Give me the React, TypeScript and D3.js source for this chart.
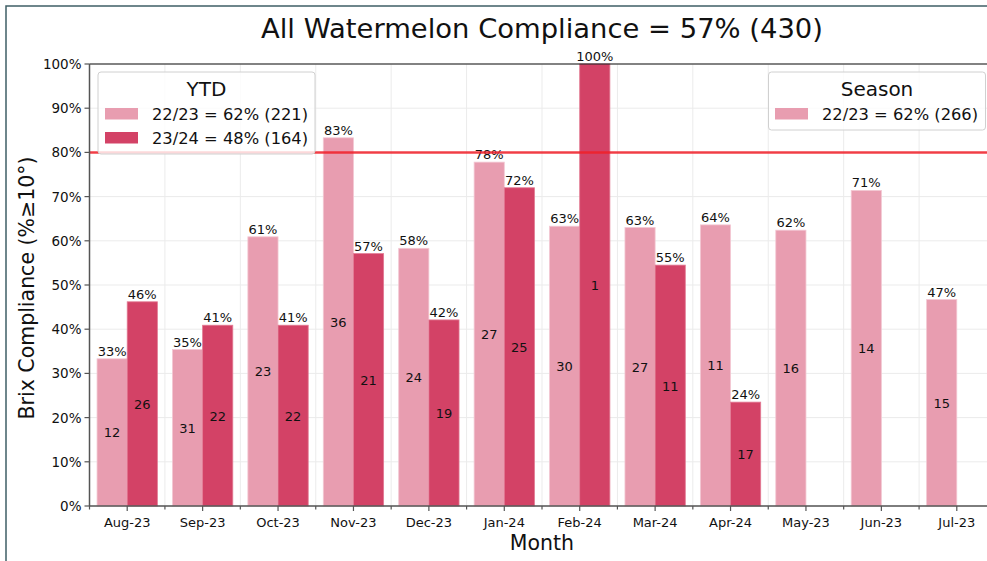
import React from "react";
import * as d3 from "d3";

const months = ["Aug-23","Sep-23","Oct-23","Nov-23","Dec-23","Jan-24","Feb-24","Mar-24","Apr-24","May-23","Jun-23","Jul-23"];
const pct2223 = [33.3, 35.4, 60.9, 83.3, 58.3, 77.8, 63.3, 63.0, 63.6, 62.4, 71.4, 46.7];
const cnt2223 = [12, 31, 23, 36, 24, 27, 30, 27, 11, 16, 14, 15];
const pct2324 = [46.2, 40.9, 40.9, 57.1, 42.1, 72.0, 100, 54.5, 23.5, null, null, null];
const cnt2324 = [26, 22, 22, 21, 19, 25, 1, 11, 17, null, null, null];
const yTicks = [0, 10, 20, 30, 40, 50, 60, 70, 80, 90, 100];
const target = 80;
const titleText = "All Watermelon Compliance = 57% (430)";
const ytdLegend = ["22/23 = 62% (221)", "23/24 = 48% (164)"];
const seasonLegend = ["22/23 = 62% (266)"];

const LIGHT = "#e89db0";
const DARK = "#d34266";
const FONT = "DejaVu Sans";

export default function App() {
  const W = 987, H = 561;
  const left = 89.5, right = 994.5, top = 64, bottom = 506;
  const x = d3.scaleBand<string>().domain(months).range([left, right]).padding(0);
  const y = d3.scaleLinear().domain([0, 100]).range([bottom, top]);
  const bw = x.bandwidth();
  const barW = bw * 0.4;
  const boundaries = d3.range(months.length + 1).map(i => left + i * bw);

  return (
    <svg width={W} height={H} style={{ position: "absolute", left: 0, top: 0, fontFamily: FONT }}>
      <rect x={0} y={0} width={W} height={H} fill="white" />
      {/* frame */}
      <rect x={6} y={6} width={W + 20} height={H + 20} fill="none" stroke="#3f5f66" strokeWidth={1.5} />
      {/* grid */}
      {yTicks.map(t => (
        <line key={"gy" + t} x1={left} x2={right} y1={y(t)} y2={y(t)} stroke="#ebebeb" strokeWidth={1} />
      ))}
      {boundaries.map((b, i) => (
        <line key={"gx" + i} x1={b} x2={b} y1={top} y2={bottom} stroke="#ebebeb" strokeWidth={1} />
      ))}
      {/* bars */}
      {months.map((m, i) => {
        const cx = (x(m) as number) + bw / 2;
        const v1 = pct2223[i];
        const v2 = pct2324[i];
        return (
          <g key={m}>
            <rect x={cx - barW} y={y(v1)} width={barW} height={bottom - y(v1)} fill={LIGHT} stroke="#f3c8d3" strokeWidth={0.8} />
            {v2 !== null && (
              <rect x={cx} y={y(v2)} width={barW} height={bottom - y(v2)} fill={DARK} stroke="#e27a93" strokeWidth={0.8} />
            )}
          </g>
        );
      })}
      {/* labels */}
      {months.map((m, i) => {
        const cx = (x(m) as number) + bw / 2;
        const v1 = pct2223[i];
        const v2 = pct2324[i];
        const c2 = cnt2324[i];
        return (
          <g key={"l" + m} fontSize={13} fill="#111" textAnchor="middle">
            <text x={cx - barW / 2} y={y(v1) - 3}>{Math.round(v1) + "%"}</text>
            <text x={cx - barW / 2} y={y(v1 / 2) + 5}>{cnt2223[i]}</text>
            {v2 !== null && <text x={cx + barW / 2} y={y(v2) - 3}>{Math.round(v2) + "%"}</text>}
            {v2 !== null && <text x={cx + barW / 2} y={y(v2 / 2) + 5}>{c2}</text>}
          </g>
        );
      })}
      {/* target line */}
      <line x1={left} x2={right} y1={y(target)} y2={y(target)} stroke="#f01e28" strokeOpacity={0.85} strokeWidth={2.5} />
      {/* spines */}
      <line x1={left} x2={right} y1={top} y2={top} stroke="#111" strokeWidth={1.2} />
      <line x1={left} x2={left} y1={top} y2={bottom} stroke="#555" strokeWidth={1.5} />
      <line x1={left} x2={right} y1={bottom} y2={bottom} stroke="#555" strokeWidth={1.5} />
      {/* y ticks */}
      {yTicks.map(t => (
        <g key={"yt" + t}>
          <line x1={left - 5} x2={left} y1={y(t)} y2={y(t)} stroke="#555" strokeWidth={1.2} />
          <text x={left - 8} y={y(t) + 5} textAnchor="end" fontSize={13.5} fill="#111">{t + "%"}</text>
        </g>
      ))}
      {/* x ticks */}
      {boundaries.map((b, i) => (
        <line key={"mt" + i} x1={b} x2={b} y1={bottom} y2={bottom + 3.5} stroke="#555" strokeWidth={1.2} />
      ))}
      {months.map(m => {
        const cx = (x(m) as number) + bw / 2;
        return (
          <g key={"xt" + m}>
            <line x1={cx} x2={cx} y1={bottom} y2={bottom + 5} stroke="#555" strokeWidth={1.2} />
            <text x={cx} y={bottom + 21} textAnchor="middle" fontSize={13} fill="#111">{m}</text>
          </g>
        );
      })}
      {/* axis titles */}
      <text x={(left + right) / 2} y={38} textAnchor="middle" fontSize={27.4} fill="#111">{titleText}</text>
      <text x={(left + right) / 2} y={550} textAnchor="middle" fontSize={20.5} fill="#111">Month</text>
      <text transform={`translate(34,${(top + bottom) / 2 + 3}) rotate(-90)`} textAnchor="middle" fontSize={20.5} fill="#111">Brix Compliance (%≥10°)</text>
      {/* YTD legend */}
      <g>
        <rect x={98} y={72} width={217} height={82} rx={3} fill="white" fillOpacity={0.8} stroke="#d0d0d0" />
        <text x={206.5} y={96} textAnchor="middle" fontSize={20} fill="#111">YTD</text>
        {ytdLegend.map((t, i) => (
          <g key={"ly" + i}>
            <rect x={105} y={108 + i * 24} width={33} height={11.5} fill={i === 0 ? LIGHT : DARK} />
            <text x={152} y={120 + i * 24} fontSize={16.3} fill="#111">{t}</text>
          </g>
        ))}
      </g>
      {/* Season legend */}
      <g>
        <rect x={768.5} y={72} width={217} height={58} rx={3} fill="white" fillOpacity={0.8} stroke="#d0d0d0" />
        <text x={877} y={96} textAnchor="middle" fontSize={20} fill="#111">Season</text>
        {seasonLegend.map((t, i) => (
          <g key={"ls" + i}>
            <rect x={775} y={108 + i * 24} width={33} height={11.5} fill={LIGHT} />
            <text x={822} y={120 + i * 24} fontSize={16.3} fill="#111">{t}</text>
          </g>
        ))}
      </g>
    </svg>
  );
}
